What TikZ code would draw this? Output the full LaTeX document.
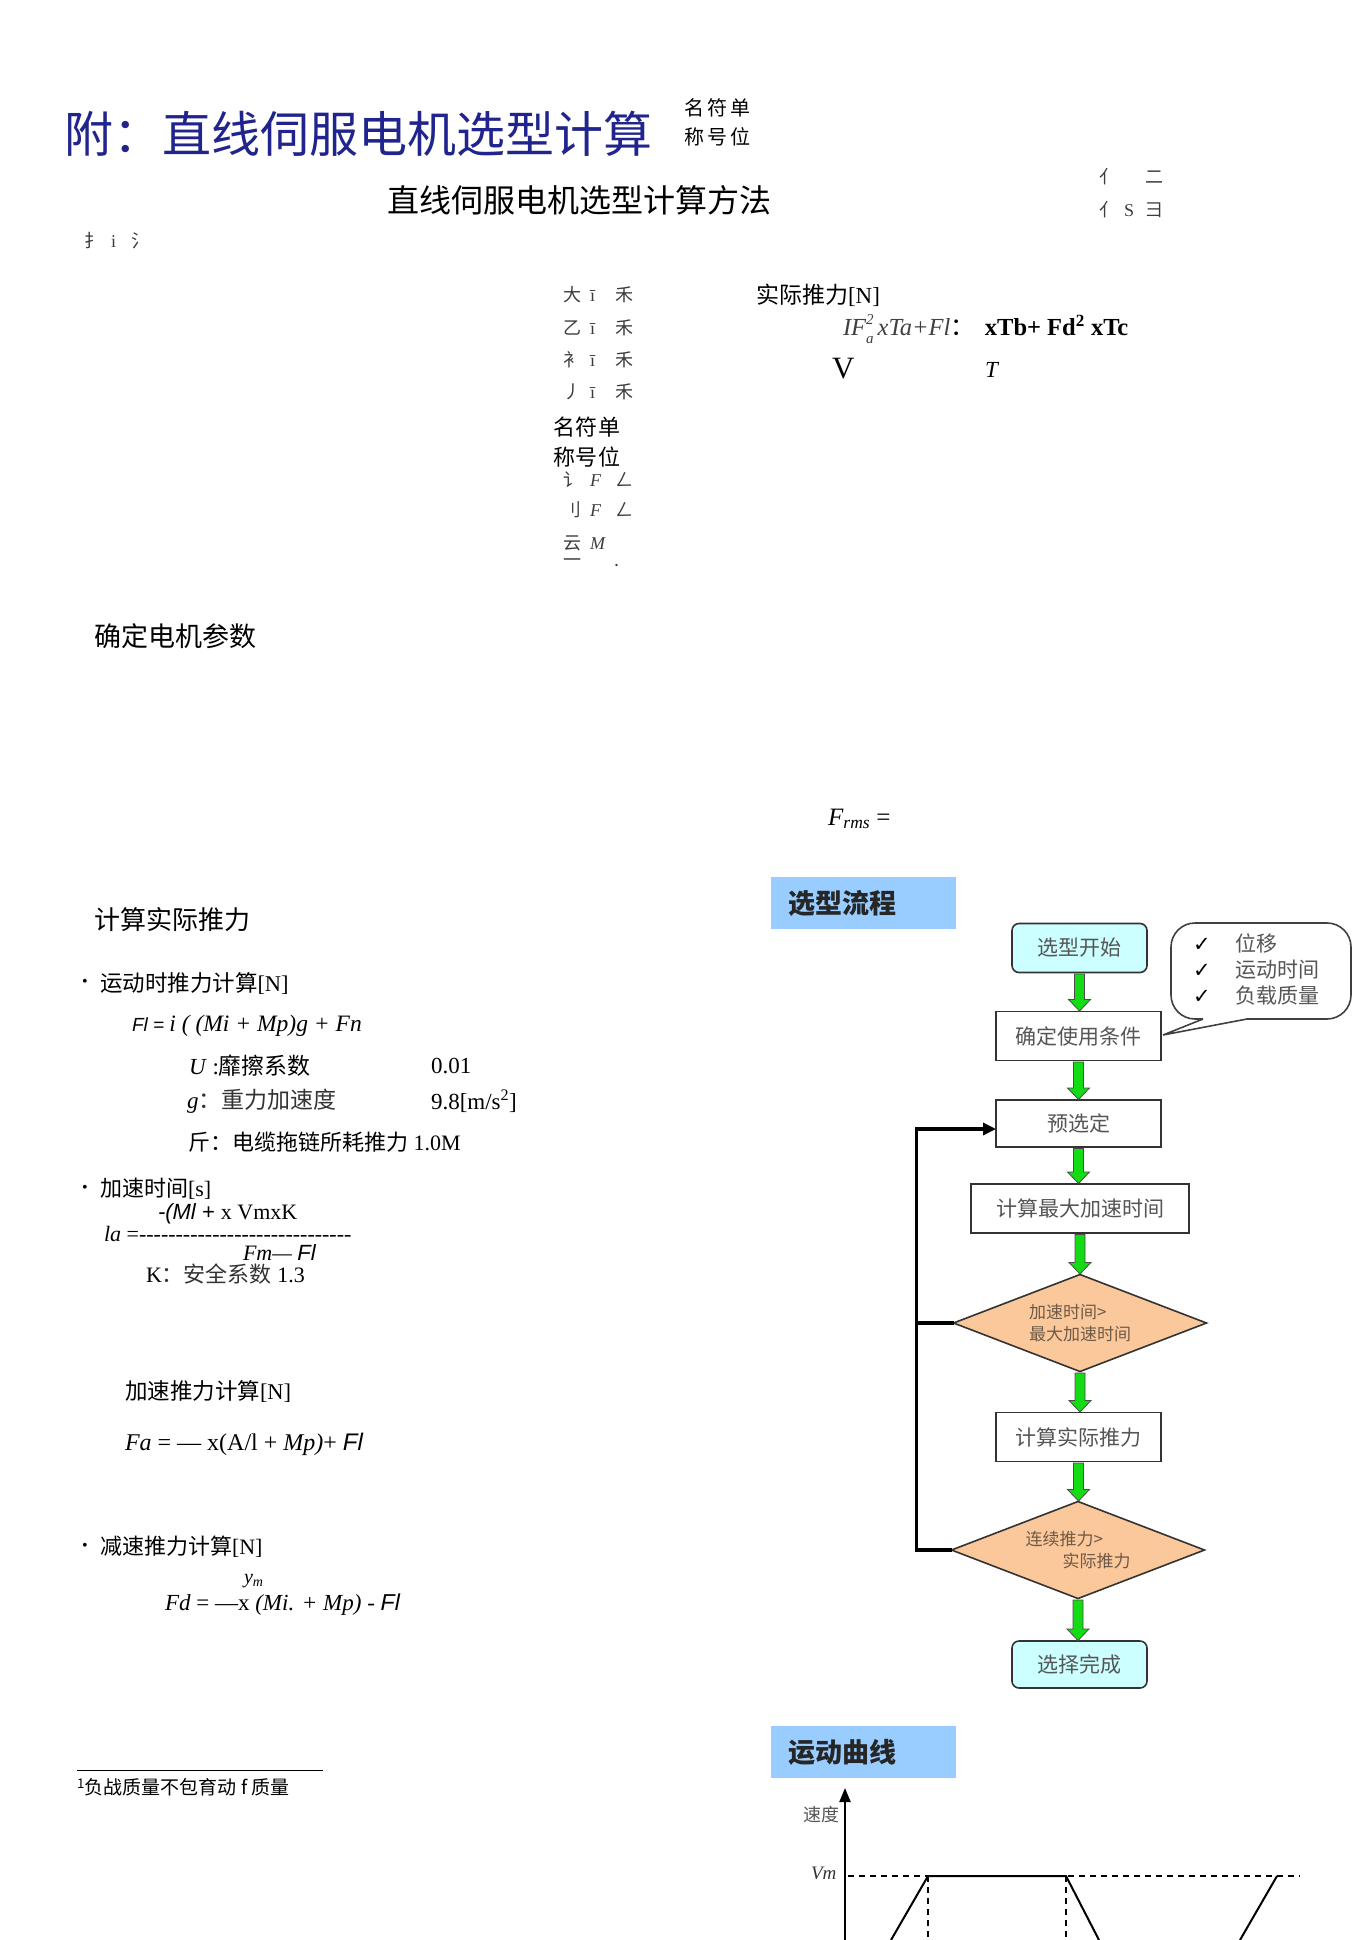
\documentclass[tikz,border=0pt]{standalone}
\usepackage{fontspec}
\setmainfont{Liberation Serif}
\newfontfamily\cjk{Noto Sans CJK SC}
\newfontfamily\ars{Liberation Sans}
\newfontfamily\dvs{DejaVu Sans}
\usetikzlibrary{shapes.geometric,arrows.meta,calc}
\definecolor{navy}{RGB}{32,36,140}
\definecolor{hdrblue}{RGB}{153,204,255}
\definecolor{startcyan}{RGB}{204,255,255}
\definecolor{diaorange}{RGB}{250,200,155}
\definecolor{arrgreen}{RGB}{20,220,20}
\definecolor{boxtext}{RGB}{85,85,85}
\definecolor{diatext}{RGB}{110,90,70}
\definecolor{fraggray}{RGB}{60,60,60}
\newcommand\fs[1]{\fontsize{#1}{#1}\selectfont}
\newcommand\garrow[2]{\draw[garr] let \p1=(#1.south), \p2=(#2.north) in
  (\x1-5pt,\y1-1.5pt) -- (\x1-5pt,\y2+12pt) -- (\x1-11pt,\y2+12pt) -- (\x1,\y2+0.5pt)
  -- (\x1+11pt,\y2+12pt) -- (\x1+5pt,\y2+12pt) -- (\x1+5pt,\y1-1.5pt) -- cycle;}
\newcommand\dashrow[1]{\foreach\i in {1,...,#1}{-}}
\begin{document}
\begin{tikzpicture}[x=1pt,y=-1pt,
  every node/.style={inner sep=0pt,outer sep=0pt},
  txt/.style={anchor=west,text=black},
  frag/.style={anchor=west,text=fraggray,font=\cjk\fs{18}},
  hdr/.style={anchor=west,fill=hdrblue,minimum height=52pt,text width=151pt,inner xsep=17pt,align=left,font=\cjk\bfseries\fs{27},text=black!85},
  flowbox/.style={rectangle,draw=black!80,line width=1.6pt,fill=white,text=boxtext,font=\cjk\fs{21},minimum height=49pt},
  termbox/.style={flowbox,rounded corners=7pt,fill=startcyan,minimum width=135pt},
  decision/.style={diamond,aspect=2.6,draw=black!80,line width=1.6pt,fill=diaorange,text=diatext,font=\cjk\fontsize{17}{22}\selectfont,align=left,minimum width=253pt,minimum height=97pt},
  garr/.style={fill=arrgreen,draw=black!70,line width=0.8pt},
  fb/.style={line width=3.2pt,draw=black,line join=miter},
  curve/.style={line width=2pt},
  dashline/.style={line width=1.6pt,dash pattern=on 6pt off 5pt}]

\useasboundingbox (0,0) rectangle (1370,1940);

% ---------- title area ----------
\node[txt,text=navy,font=\cjk\fs{49}] (title) at (64,134) {附：直线伺服电机选型计算};
\node[txt,font=\cjk\fs{20}] (tsmall1) at (684,108) {名\hspace{3pt}符\hspace{3pt}单};
\node[txt,font=\cjk\fs{20}] (tsmall2) at (684,137) {称\hspace{3pt}号\hspace{3pt}位};
\node[txt,font=\cjk\fs{32}] (subtitle) at (387,200) {直线伺服电机选型计算方法};
\node[frag] (fragA) at (84,241) {\makebox[27pt][l]{扌}\makebox[20pt][l]{\rmfamily i}氵};
\node[frag] (fragB) at (1099,177) {\makebox[46pt][l]{亻}二};
\node[frag] (fragC) at (1099,210) {\makebox[25pt][l]{亻}\makebox[21pt][l]{\rmfamily S}彐};

% ---------- column of fragments ----------
\node[frag] (col1) at (563,295) {\makebox[27pt][l]{大}\makebox[25pt][l]{\rmfamily ī}禾};
\node[frag] (col2) at (563,328) {\makebox[27pt][l]{乙}\makebox[25pt][l]{\rmfamily ī}禾};
\node[frag] (col3) at (563,360) {\makebox[27pt][l]{衤}\makebox[25pt][l]{\rmfamily ī}禾};
\node[frag] (col4) at (563,392) {\makebox[27pt][l]{丿}\makebox[25pt][l]{\rmfamily ī}禾};
\node[txt,font=\cjk\fs{22}] (col5) at (553,427) {名\hspace{1pt}符\hspace{1pt}单};
\node[txt,font=\cjk\fs{22}] (col6) at (553,457) {称\hspace{1pt}号\hspace{1pt}位};
\node[frag] (col7) at (563,480) {\makebox[27pt][l]{讠}\makebox[25pt][l]{\rmfamily\itshape F}ㄥ};
\node[frag] (col8) at (563,510) {\makebox[27pt][l]{刂}\makebox[25pt][l]{\rmfamily\itshape F}ㄥ};
\node[frag] (col9) at (563,543) {\makebox[27pt][l]{云}{\rmfamily\itshape M}};
\node[frag] (col10) at (563,563) {\makebox[52pt][l]{一}.};

% ---------- actual thrust formula ----------
\node[txt,font=\fs{23}] (actual) at (756,295) {{\cjk 实际推力}[N]};
\node[txt,font=\fs{24.5}] (rmsf) at (843,329) {{\itshape\color{black!75}IF\rlap{\raisebox{-0.3em}{\fontsize{15}{15}\selectfont a}}\raisebox{0.45em}{\fontsize{15}{15}\selectfont 2}\hspace{4pt}xTa+Fl}{\cjk ：}\hspace{10pt}\textbf{xTb+ Fd\textsuperscript{2} xTc}};
\node[txt,font=\fs{31}] (bigV) at (832,369) {V};
\node[txt,font=\itshape\fs{23}] (bigT) at (985,370) {T};

\node[txt,font=\cjk\fs{27}] (motor) at (94,636) {确定电机参数};
\node[txt,font=\fs{25}] (frms) at (828,819) {\textit{F}\textsubscript{\textit{rms}} =};

% ---------- left column ----------
\node[txt,font=\cjk\fs{26}] (calcact) at (94,920) {计算实际推力};

\node[txt,font=\fs{16}] (b1) at (82,983) {•};
\node[txt,font=\fs{22.5}] (t1) at (100,983) {{\cjk 运动时推力计算}[N]};
\node[txt,font=\fs{23.5}] (fl) at (132,1026) {{\ars\itshape\fontsize{19}{19}\selectfont Fl = }\textit{i ( (Mi + Mp)g + Fn}};
\node[txt,font=\fs{23}] (mu) at (189,1066) {\textit{U} :{\cjk 靡擦系数}};
\node[txt,font=\fs{23}] (muv) at (431,1066) {0.01};
\node[txt,font=\fs{23}] (gg) at (187,1101) {\textit{g}{\cjk\color{black!80} ：重力加速度}};
\node[txt,font=\fs{23}] (ggv) at (431,1101) {9.8[m/s\textsuperscript{2}]};
\node[txt,font=\fs{22}] (fn) at (188,1142) {{\cjk 斤：电缆拖链所耗推力} 1.0M};

\node[txt,font=\fs{16}] (b2) at (82,1189) {•};
\node[txt,font=\fs{22}] (t2) at (100,1189) {{\cjk 加速时间}[s]};
\node[txt,font=\fs{22}] (tanum) at (158,1214) {{\ars\itshape -(Ml + }x VmxK};
\node[txt,font=\fs{22}] (taline) at (104,1234) {\textit{la} =\dashrow{29}};
\node[txt,font=\fs{22}] (taden) at (243,1253) {\textit{Fm—} {\ars\itshape Fl}};
\node[txt,font=\fs{22}] (kk) at (146,1274) {K{\cjk\color{black!80}：安全系数} 1.3};

\node[txt,font=\fs{22.5}] (t3) at (125,1391) {{\cjk 加速推力计算}[N]};
\node[txt,font=\fs{24}] (fa) at (125,1444) {\textit{Fa} = — x(A/l + \textit{Mp)}+ {\ars\itshape Fl}};

\node[txt,font=\fs{16}] (b3) at (82,1547) {•};
\node[txt,font=\fs{22}] (t4) at (100,1547) {{\cjk 减速推力计算}[N]};
\node[txt,font=\itshape\fs{20}] (ym) at (244,1581) {y\textsubscript{m}};
\node[txt,font=\fs{23}] (fd) at (165,1605) {\textit{Fd} = —x \textit{(Mi. + Mp)} - {\ars\itshape Fl}};

% footnote
\coordinate (fnl) at (77,1770);
\coordinate (fnr) at (323,1770);
\draw[line width=1pt] (fnl) -- (fnr);
\node[txt,font=\cjk\fs{19}] (foot) at (77,1787) {\textsuperscript{1}负战质量不包育动 f 质量};

% ---------- headers ----------
\node[hdr] (hflow) at (771,903) {选型流程};
\node[hdr] (hcurve) at (771,1752) {运动曲线};

% ---------- flowchart ----------
\node[termbox] (start) at (1079.5,948) {选型开始};
\node[flowbox,minimum width=165pt] (cond) at (1078.5,1036) {确定使用条件};
\node[flowbox,minimum width=165pt,minimum height=47pt] (pre) at (1078.5,1123.5) {预选定};
\node[flowbox,minimum width=218pt] (maxacc) at (1080,1208.5) {计算最大加速时间};
\node[decision] (d1) at (1080,1323) {加速时间>\\最大加速时间};
\node[flowbox,minimum width=165pt] (calc) at (1078.5,1437) {计算实际推力};
\node[decision] (d2) at (1078,1550) {连续推力>\\\hspace*{37pt}实际推力};
\node[termbox,minimum height=47pt] (done) at (1079.5,1664.5) {选择完成};

\garrow{start}{cond}
\garrow{cond}{pre}
\garrow{pre}{maxacc}
\garrow{maxacc}{d1}
\garrow{d1}{calc}
\garrow{calc}{d2}
\garrow{d2}{done}

\coordinate (fbl) at ($(d2.west)+(-35,0)$);
\draw[fb,-{Triangle[length=13pt,width=12pt]}] (d2.west) -- (fbl) |- ([yshift=-5.5pt]pre.west);
\draw[fb] (d1.west) -- (d1.west -| fbl);

% callout
\node[draw=black!75,line width=1.6pt,rounded corners=24pt,minimum width=180pt,minimum height=96pt] (callout) at (1261,971) {};
\coordinate (ctip) at (1163,1035);
\fill[white] (1203,1016) rectangle (1247,1023);
\draw[line width=1.6pt,draw=black!75,line join=miter] (1203,1019) -- (ctip) -- (1247,1019);
\node[txt,font=\cjk\fs{21},text=boxtext] (c1) at (1193,943) {\makebox[42pt][l]{\dvs\color{black}✓}位移};
\node[txt,font=\cjk\fs{21},text=boxtext] (c2) at (1193,970) {\makebox[42pt][l]{\dvs\color{black}✓}运动时间};
\node[txt,font=\cjk\fs{21},text=boxtext] (c3) at (1193,996) {\makebox[42pt][l]{\dvs\color{black}✓}负载质量};

% ---------- velocity curve ----------
\coordinate (origin) at (845,1940);
\coordinate (vtop) at (845,1788);
\draw[line width=2.2pt,-{Triangle[length=14pt,width=11pt]}] (origin) -- (vtop);
\node[txt,font=\cjk\fs{18},text=boxtext] (speed) at (803,1815) {速度};
\node[txt,font=\itshape\fs{19},text=black!80] (vm) at (811,1873) {Vm};
\draw[dashline] (848,1876) -- (1300,1876);
\draw[curve] (891,1940) -- (928,1876) -- (1066,1876) -- (1099,1940);
\draw[curve] (1277,1876) -- (1240,1940);
\draw[dashline] (928,1876) -- (928,1940);
\draw[dashline] (1066,1876) -- (1066,1940);
\end{tikzpicture}
\end{document}
